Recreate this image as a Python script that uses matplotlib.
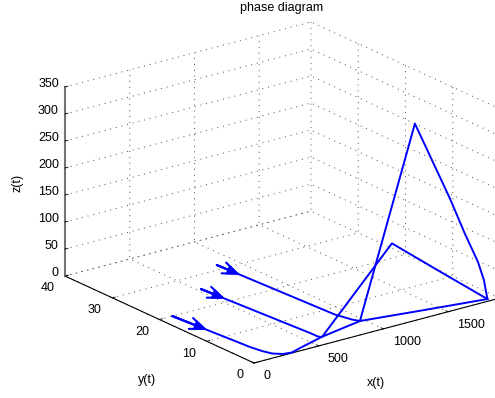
import numpy as np
import matplotlib
matplotlib.use("Agg")
import matplotlib.pyplot as plt

# ---------------- data ----------------
x_ticks = [0, 500, 1000, 1500]
y_ticks = [0, 10, 20, 30, 40]
z_ticks = [0, 50, 100, 150, 200, 250, 300, 350]
x_lim = (0, 1900)
y_lim = (0, 40)
z_lim = (0, 350)

# trajectory 1 (lowest start)
x1 = [100, 151, 167, 190, 238, 298, 363, 448, 532, 830, 1297, 1825]
y1 = [20.0, 5.0, 2.9, 1.4, 0.4, 0.15, 0.2, 0.2, 0.2, 0.3, 0.4, 0.6]
z1 = [0, 0, 0, 0, 0, 0, 4, 9, 14, 24, 13, 0.5]
# trajectory 2 (middle start)
x2 = [529, 595, 596, 611, 1175, 1502, 1825]
y2 = [25.7, 4.4, 2.8, 2.35, 3.0, 1.8, 0.6]
z2 = [0, 0, 0, 0, 135, 67, 0.5]
# trajectory 3 (upper start)
x3 = [863, 914, 945, 968, 1389, 1642, 1739, 1803, 1820, 1825]
y3 = [31.5, 7.9, 5.1, 4.1, 4.0, 3.5, 3.0, 2.0, 1.2, 0.6]
z3 = [0, 0, 0, 0, 339, 186, 117, 65, 33.5, 0.5]

# direction arrows (tail -> tip) on the initial parts
arrow_tail_x = [100, 529, 863]
arrow_tail_y = [20.0, 25.7, 31.5]
arrow_tip_x = [123, 543, 873]
arrow_tip_y = [13.3, 21.0, 26.9]

# ---------------- figure ----------------
W, H, DPI = 495, 398, 100
FS = 9
plt.rcParams['font.family'] = ['Liberation Sans', 'DejaVu Sans']
plt.rcParams['font.size'] = FS
plt.rcParams['grid.color'] = '0.3'
plt.rcParams['grid.linewidth'] = 0.7
plt.rcParams['grid.linestyle'] = (0, (1, 5))

fig = plt.figure(figsize=(W / DPI, H / DPI), dpi=DPI)
ax = fig.add_axes([0, 0, 1, 1], projection='3d', proj_type='ortho')
ax.set_xlim(*x_lim)
ax.set_ylim(*y_lim)
ax.set_zlim(*z_lim)
ax.set_box_aspect((1.0, 1.014, 0.654))
ax.view_init(elev=20.4, azim=-127.15)


def project(xs, ys, zs):
    xs = np.asarray(xs, float)
    ys = np.asarray(ys, float)
    zs = np.asarray(zs, float)
    M = ax.get_proj()
    v = np.vstack([xs, ys, zs, np.ones_like(xs)])
    r = M @ v
    return r[0] / r[3], r[1] / r[3]


# place the axes so the box corners land where the reference has them
cx = [x_lim[0], x_lim[0], x_lim[0], x_lim[1], x_lim[1]]
cy = [y_lim[0], y_lim[1], y_lim[1], y_lim[1], y_lim[0]]
cz = [z_lim[0], z_lim[0], z_lim[1], z_lim[1], z_lim[0]]
tgt = np.array([[254, 35], [65, 122], [65, 311], [311, 376], [500, 100]], float)
px, py = project(cx, cy, cz)
P = np.column_stack([px, py])
Pm, Tm = P.mean(0), tgt.mean(0)
k = np.sum((P - Pm) * (tgt - Tm)) / np.sum((P - Pm) ** 2)
t = Tm - k * Pm
vx0, vx1 = ax.viewLim.intervalx
vy0, vy1 = ax.viewLim.intervaly
S = k * (vx1 - vx0)
left = t[0] + k * vx0
bottom = t[1] + k * vy0
ax.set_position([left / W, bottom / H, S / W, S / H])

# panes, grid, axis lines
for axis in (ax.xaxis, ax.yaxis, ax.zaxis):
    axis.set_pane_color((1, 1, 1, 0))
    axis._axinfo['grid'].update(color='0.3', linewidth=0.7, linestyle=(0, (1, 5)))
    axis._axinfo['tick']['inward_factor'] = 0.0
    axis._axinfo['tick']['outward_factor'] = 0.15
    axis._axinfo['tick']['linewidth'] = {True: 0.6, False: 0.5}
    axis.line.set_color('k')
    axis.line.set_linewidth(0.8)
ax.zaxis.line.set_color('0.45')
ax.zaxis.line.set_linewidth(1.5)

ax.set_xticks(x_ticks)
ax.set_yticks(y_ticks)
ax.set_zticks(z_ticks)
ax.tick_params(axis='both', labelsize=FS, colors='k')
ax.tick_params(axis='x', pad=0.5)
ax.tick_params(axis='y', pad=-0.5)
ax.tick_params(axis='z', pad=-5.5)
ax.grid(True)
for lab in ax.get_xticklabels():
    lab.set_ha('left')
    lab.set_va('center')
for lab in ax.get_yticklabels():
    lab.set_ha('right')
    lab.set_va('center_baseline')
for lab in ax.get_zticklabels():
    lab.set_ha('right')
    lab.set_va('baseline')

# trajectories
for xs, ys, zs in ((x1, y1, z1), (x2, y2, z2), (x3, y3, z3)):
    ax.plot(xs, ys, zs, color='#0000ff', linewidth=1.4, solid_joinstyle='round')

# arrows
tx_, ty_ = project(arrow_tail_x, arrow_tail_y, np.zeros(3))
hx_, hy_ = project(arrow_tip_x, arrow_tip_y, np.zeros(3))
for a, b, c, d in zip(tx_, ty_, hx_, hy_):
    ax.annotate('', xy=(c, d), xytext=(a, b), xycoords='data',
                arrowprops=dict(arrowstyle='-|>,head_length=0.5,head_width=0.2',
                                color='#0000ff', lw=1.5, mutation_scale=14,
                                shrinkA=0, shrinkB=0))
    ax.annotate('', xy=(c, d), xytext=(a, b), xycoords='data',
                arrowprops=dict(arrowstyle='->,head_length=0.75,head_width=0.3',
                                color='#0000ff', lw=1.5, mutation_scale=14,
                                shrinkA=0, shrinkB=0))

# texts
fig.text(282 / W, 1 - 8 / H, 'phase diagram', ha='center', va='center', fontsize=FS)
fig.text(376 / W, 1 - 383 / H, 'x(t)', ha='center', va='center', fontsize=FS)
fig.text(147 / W, 1 - 380 / H, 'y(t)', ha='center', va='center', fontsize=FS)
fig.text(18 / W, 1 - 183 / H, 'z(t)', ha='center', va='center', fontsize=FS, rotation=90)

fig.savefig('out.png', dpi=DPI)
